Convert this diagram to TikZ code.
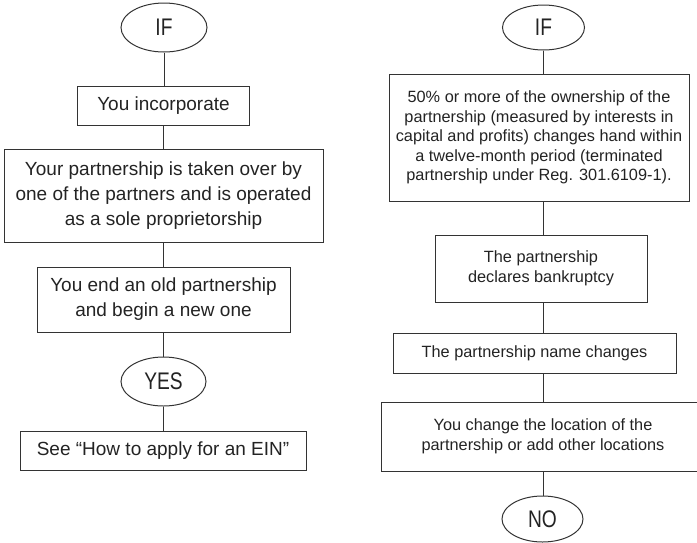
\documentclass[tikz,border=0pt]{standalone}
\usepackage{fontspec}
\setmainfont{Liberation Sans}
\newfontfamily\ovalfont[FakeStretch=0.8]{Liberation Sans}
\usetikzlibrary{shapes.geometric}
\definecolor{lineColor}{RGB}{51,51,51}
\definecolor{textColor}{RGB}{35,35,35}
\begin{document}
\begin{tikzpicture}[x=1pt,y=-1pt,
  box/.style={draw=lineColor,line width=1pt,text=textColor,align=center,inner sep=0pt},
  leftbox/.style={box,font=\fontsize{19}{25}\selectfont},
  rightbox/.style={box,font=\fontsize{16.3}{19.5}\selectfont},
  oval/.style={ellipse,draw=lineColor,line width=1pt,text=textColor,inner sep=0pt,font=\ovalfont\fontsize{24}{26}\selectfont},
  link/.style={draw=lineColor,line width=1pt}]
\path[use as bounding box] (0,0) rectangle (697,542);
\clip (0,0) rectangle (697,542);

\node[oval,minimum width=86pt,minimum height=49pt] (ifL) at (164,27.5) {IF};
\node[leftbox,minimum width=172pt,minimum height=39pt] (incorp) at (163.5,105.5) {You incorporate};
\node[leftbox,minimum width=319pt,minimum height=93pt] (takeover) at (163.5,195.5) {Your partnership is taken over by\\one of the partners and is operated\\as a sole proprietorship};
\node[leftbox,minimum width=253pt,minimum height=65pt] (oldnew) at (163.5,299.5) {You end an old partnership\\and begin a new one};
\node[oval,minimum width=85pt,minimum height=49pt] (yes) at (163.5,381.5) {YES};
\node[leftbox,minimum width=286pt,minimum height=39pt] (seeein) at (163,450.5) {See “How to apply for an EIN”};

\path[link] (ifL.south) -- (ifL.south |- incorp.north);
\path[link] (incorp.south) -- (incorp.south |- takeover.north);
\path[link] (takeover.south) -- (takeover.south |- oldnew.north);
\path[link] (oldnew.south) -- (oldnew.south |- yes.north);
\path[link] (yes.south) -- (yes.south |- seeein.north);

\node[oval,minimum width=82pt,minimum height=45pt] (ifR) at (543.5,27.5) {IF};
\node[rightbox,minimum width=300pt,minimum height=127pt] (owner) at (539,137.5) {50\% or more of the ownership of the\\partnership (measured by interests in\\capital and profits) changes hand within\\a twelve-month period (terminated\\partnership under Reg. 301.6109-1).};
\node[rightbox,minimum width=212pt,minimum height=67pt] (bankrupt) at (541,268.5) {The partnership\\declares bankruptcy};
\node[rightbox,minimum width=283pt,minimum height=40pt] (rename) at (534.5,353) {The partnership name changes};
\node[rightbox,minimum width=324pt,minimum height=69pt] (relocate) at (543,436.5) {You change the location of the\\partnership or add other locations};
\node[oval,minimum width=81pt,minimum height=46pt] (no) at (542.5,519) {NO};

\path[link] (ifR.south) -- (ifR.south |- owner.north);
\path[link] (ifR.south |- owner.south) -- (ifR.south |- bankrupt.north);
\path[link] (ifR.south |- bankrupt.south) -- (ifR.south |- rename.north);
\path[link] (ifR.south |- rename.south) -- (ifR.south |- relocate.north);
\path[link] (ifR.south |- relocate.south) -- (ifR.south |- no.north);
\end{tikzpicture}
\end{document}
